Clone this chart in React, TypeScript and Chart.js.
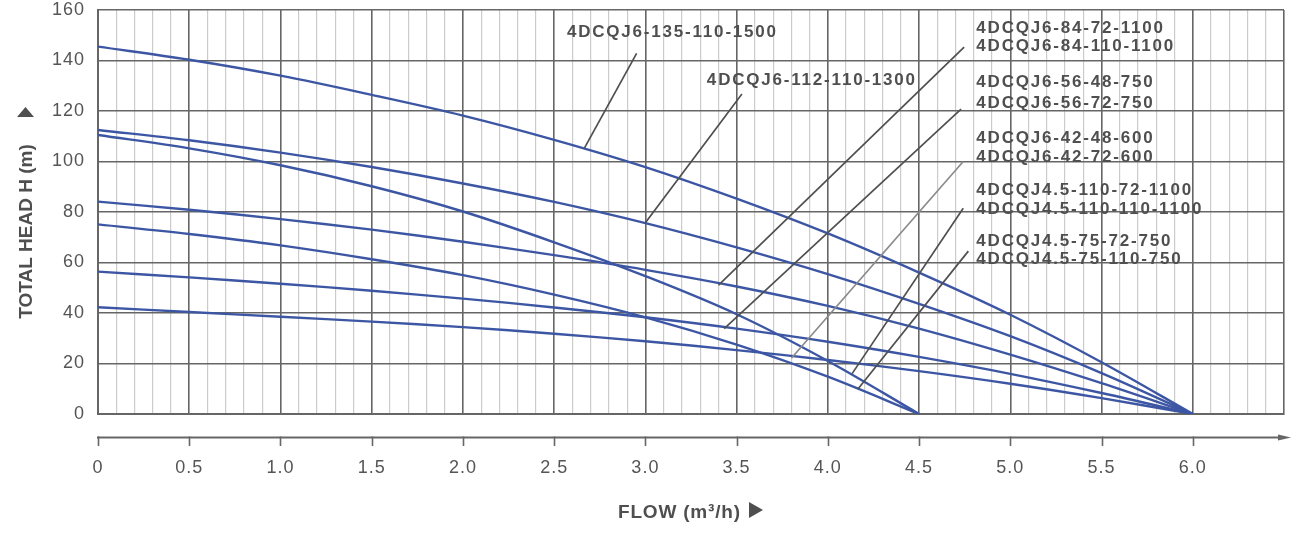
import React, { useEffect, useRef } from "react";
import { Chart, registerables } from "chart.js";

Chart.register(...registerables);

// ---- data -------------------------------------------------------------
const flow6 = [0, 0.5, 1.0, 1.5, 2.0, 2.5, 3.0, 3.5, 4.0, 4.5, 5.0, 5.5, 6.0];
const flow45 = [0, 0.5, 1.0, 1.5, 2.0, 2.5, 3.0, 3.5, 4.0, 4.5];

const head135 = [145.5, 140.3, 134.0, 126.4, 118.2, 108.6, 97.8, 85.3, 71.5, 56.0, 39.3, 20.5, 0];
const head112 = [112.5, 108.4, 103.5, 97.8, 91.3, 84.0, 75.6, 66.0, 55.4, 43.6, 30.8, 16.2, 0];
const head84 = [84.1, 80.9, 77.2, 73.0, 68.2, 62.9, 57.1, 50.5, 42.8, 33.8, 23.5, 12.2, 0];
const head56 = [56.4, 54.1, 51.6, 48.8, 45.7, 42.2, 38.3, 33.8, 28.6, 22.6, 15.9, 8.3, 0];
const head42 = [42.3, 40.4, 38.5, 36.6, 34.4, 31.8, 28.8, 25.3, 21.4, 17.0, 12.0, 6.3, 0];
const head45_110 = [110.5, 105.2, 98.5, 90.2, 80.2, 68.0, 54.6, 39.5, 21.0, 0];
const head45_75 = [75.1, 71.3, 66.8, 61.3, 55.0, 47.3, 38.3, 27.5, 14.8, 0];

const seriesNames = [
  "4DCQJ6-135-110-1500",
  "4DCQJ6-112-110-1300",
  "4DCQJ6-84",
  "4DCQJ6-56",
  "4DCQJ6-42",
  "4DCQJ4.5-110",
  "4DCQJ4.5-75",
];

const xTickLabels = ["0", "0.5", "1.0", "1.5", "2.0", "2.5", "3.0", "3.5", "4.0", "4.5", "5.0", "5.5", "6.0"];
const yTickLabels = ["0", "20", "40", "60", "80", "100", "120", "140", "160"];

// annotation labels (text, anchor in data units)
const labelTexts = [
  "4DCQJ6-135-110-1500",
  "4DCQJ6-112-110-1300",
  "4DCQJ6-84-72-1100",
  "4DCQJ6-84-110-1100",
  "4DCQJ6-56-48-750",
  "4DCQJ6-56-72-750",
  "4DCQJ6-42-48-600",
  "4DCQJ6-42-72-600",
  "4DCQJ4.5-110-72-1100",
  "4DCQJ4.5-110-110-1100",
  "4DCQJ4.5-75-72-750",
  "4DCQJ4.5-75-110-750",
];
const labelFlow = [2.57, 3.337, 4.814, 4.814, 4.814, 4.814, 4.814, 4.814, 4.814, 4.814, 4.814, 4.814];
const labelHead = [151.3, 132.3, 152.7, 145.7, 131.2, 123.2, 109.2, 101.6, 88.5, 81.2, 68.5, 61.2];

// leader lines (from curve point to label, data units)
const leaderFrom = [
  [2.665, 105.2],
  [2.998, 75.5],
  [3.401, 51.0],
  [3.432, 33.8],
  [3.801, 22.2],
  [4.133, 16.0],
  [4.165, 9.9],
];
const leaderTo = [
  [2.952, 142.8],
  [3.529, 126.7],
  [4.747, 145.3],
  [4.73, 120.7],
  [4.742, 100.0],
  [4.742, 81.5],
  [4.77, 64.5],
];
const leaderLight = [false, false, false, false, true, false, false];

// ---- styles ------------------------------------------------------------
const FONT = '"Liberation Sans", Arial, Helvetica, sans-serif';
const CURVE = "#3c56a4";
const MAJOR = "#666666";
const MINOR = "#cbcbcb";
const TEXT = "#4f4f4f";

const toXY = (xs: number[], ys: number[]) => xs.map((x, i) => ({ x, y: ys[i] }));

const annotatePlugin = {
  id: "annotate",
  beforeDraw(chart: any) {
    chart.ctx.letterSpacing = "1px";
  },
  afterDatasetsDraw(chart: any) {
    const { ctx } = chart;
    const xs = chart.scales.x;
    const ys = chart.scales.y;
    ctx.save();
    ctx.letterSpacing = "0px";
    ctx.lineCap = "butt";
    for (let i = 0; i < leaderFrom.length; i++) {
      ctx.beginPath();
      ctx.strokeStyle = leaderLight[i] ? "#8a8a8a" : "#4f4f4f";
      ctx.lineWidth = 1.7;
      ctx.moveTo(xs.getPixelForValue(leaderFrom[i][0]), ys.getPixelForValue(leaderFrom[i][1]));
      ctx.lineTo(xs.getPixelForValue(leaderTo[i][0]), ys.getPixelForValue(leaderTo[i][1]));
      ctx.stroke();
    }
    ctx.font = `bold 17px ${FONT}`;
    ctx.letterSpacing = "1.8px";
    ctx.fillStyle = TEXT;
    ctx.textAlign = "left";
    ctx.textBaseline = "middle";
    for (let i = 0; i < labelTexts.length; i++) {
      ctx.fillText(labelTexts[i], xs.getPixelForValue(labelFlow[i]), ys.getPixelForValue(labelHead[i]));
    }
    ctx.restore();
  },
  afterDraw(chart: any) {
    const { ctx } = chart;
    const xs = chart.scales.x;
    const area = chart.chartArea;
    ctx.save();
    ctx.letterSpacing = "0px";
    // detached flow axis with arrow
    const ay = 437.5;
    ctx.strokeStyle = "#666";
    ctx.fillStyle = "#666";
    ctx.lineWidth = 2;
    ctx.beginPath();
    ctx.moveTo(area.left - 1, ay);
    ctx.lineTo(area.right - 2, ay);
    ctx.stroke();
    ctx.beginPath();
    ctx.moveTo(area.right - 6, ay - 3);
    ctx.lineTo(area.right + 7, ay);
    ctx.lineTo(area.right - 6, ay + 3);
    ctx.closePath();
    ctx.fill();
    ctx.lineWidth = 1.6;
    for (const lab of xTickLabels) {
      const px = Math.round(xs.getPixelForValue(parseFloat(lab))) + 0.5;
      ctx.beginPath();
      ctx.moveTo(px, ay - 1);
      ctx.lineTo(px, ay + 8.5);
      ctx.stroke();
    }
    // titles
    ctx.fillStyle = TEXT;
    ctx.font = `bold 19px ${FONT}`;
    ctx.letterSpacing = "0.8px";
    ctx.textAlign = "left";
    ctx.textBaseline = "alphabetic";
    ctx.fillText("FLOW (m³/h)", 618, 517.5);
    ctx.beginPath();
    ctx.moveTo(749, 502);
    ctx.lineTo(763, 510);
    ctx.lineTo(749, 518);
    ctx.closePath();
    ctx.fill();

    ctx.save();
    ctx.translate(32, 231.5);
    ctx.rotate(-Math.PI / 2);
    ctx.letterSpacing = "0px";
    ctx.textAlign = "center";
    ctx.fillText("TOTAL HEAD H (m)", 0, 0);
    ctx.restore();
    ctx.beginPath();
    ctx.moveTo(17, 117);
    ctx.lineTo(25.5, 107);
    ctx.lineTo(34, 117);
    ctx.closePath();
    ctx.fill();
    ctx.restore();
  },
};

export default function App() {
  const ref = useRef<HTMLCanvasElement>(null);
  useEffect(() => {
    document.body.style.margin = "0";
    const curves = [
      toXY(flow6, head135),
      toXY(flow6, head112),
      toXY(flow6, head84),
      toXY(flow6, head56),
      toXY(flow6, head42),
      toXY(flow45, head45_110),
      toXY(flow45, head45_75),
    ];
    const isMajor = (v: number) => Math.round(v * 10) % 5 === 0;
    const chart = new Chart(ref.current as HTMLCanvasElement, {
      type: "line",
      data: {
        datasets: curves.map((d, i) => ({
          label: seriesNames[i],
          data: d,
          borderColor: CURVE,
          borderWidth: 2.4,
          pointRadius: 0,
          fill: false,
          tension: 0.35,
        })),
      },
      options: {
        animation: false,
        responsive: true,
        maintainAspectRatio: false,
        layout: { autoPadding: false, padding: { top: 10, right: 8, left: 0, bottom: 0 } },
        plugins: { legend: { display: false }, tooltip: { enabled: false } },
        scales: {
          x: {
            type: "linear",
            min: 0,
            max: 6.5,
            afterFit: (s: any) => {
              s.height = 121;
              s.paddingLeft = 0;
              s.paddingRight = 0;
            },
            border: { color: MAJOR, width: 2 },
            grid: {
              drawTicks: false,
              color: (c: any) => (isMajor(c.tick.value) ? MAJOR : MINOR),
              lineWidth: (c: any) => (isMajor(c.tick.value) ? 1.6 : 1.2),
            },
            ticks: {
              stepSize: 0.1,
              autoSkip: false,
              maxRotation: 0,
              minRotation: 0,
              padding: 43,
              color: "#555",
              font: { family: FONT, size: 18 },
              callback: (v: any) => {
                const k = Math.round(Number(v) * 10);
                return k % 5 === 0 && k / 5 < xTickLabels.length ? xTickLabels[k / 5] : "";
              },
            },
          },
          y: {
            type: "linear",
            min: 0,
            max: 160,
            afterFit: (s: any) => {
              s.width = 98;
              s.paddingTop = 0;
              s.paddingBottom = 0;
            },
            border: { color: MAJOR, width: 2 },
            grid: { drawTicks: false, color: MAJOR, lineWidth: 1.6 },
            ticks: {
              stepSize: 20,
              padding: 13,
              color: "#555",
              font: { family: FONT, size: 18 },
              callback: (v: any) => yTickLabels[Math.round(Number(v) / 20)] ?? "",
            },
          },
        },
      },
      plugins: [annotatePlugin],
    } as any);
    return () => chart.destroy();
  }, []);
  return (
    <div style={{ position: "relative", width: 1292, height: 535 }}>
      <canvas ref={ref} />
    </div>
  );
}
